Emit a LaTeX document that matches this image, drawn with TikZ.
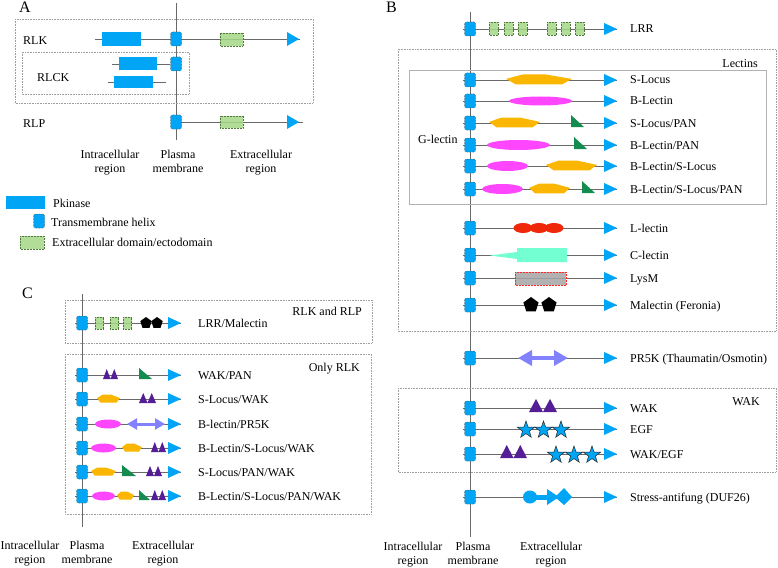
\documentclass[tikz,border=0pt]{standalone}
\usepackage{fontspec}
\setmainfont{Liberation Serif}
\usetikzlibrary{shapes.geometric,arrows.meta}
\definecolor{ablue}{RGB}{0,165,245}
\definecolor{lgreen}{RGB}{165,215,135}
\definecolor{dgreen}{RGB}{80,120,60}
\definecolor{syel}{RGB}{250,182,0}
\definecolor{bmag}{RGB}{255,70,255}
\definecolor{wpur}{RGB}{85,30,150}
\definecolor{pgrn}{RGB}{20,140,80}
\definecolor{lav}{RGB}{130,130,255}
\definecolor{lred}{RGB}{240,40,10}
\definecolor{ccyan}{RGB}{115,255,210}
\definecolor{lysg}{RGB}{165,165,165}
\definecolor{lgray}{RGB}{105,105,105}
\tikzset{
 rowline/.style={draw=lgray, line width=0.8pt},
 memline/.style={draw=lgray, line width=0.9pt},
 tm/.style={rectangle, rounded corners=2pt, fill=ablue, draw=black!75, densely dotted, line width=0.5pt, minimum width=11pt, minimum height=14pt, inner sep=0pt},
 lbl/.style={font=\fontsize{12}{13.5}\selectfont, inner sep=0pt},
 pnl/.style={font=\fontsize{16}{16}\selectfont, inner sep=0pt},
 grp/.style={draw=gray!75, densely dotted, line width=0.6pt},
 ecto/.style={fill=lgreen, draw=dgreen, densely dotted, line width=0.5pt, fill opacity=0.85},
 pent/.style={regular polygon, regular polygon sides=5, fill=black, inner sep=0pt},
 egf/.style={star, star points=5, star point ratio=2.5, fill=ablue, draw=black!85, line width=0.5pt, minimum size=18pt, inner sep=0pt},
}
\newcommand\protrow[7]{%
 \coordinate (#1s) at (#4,#3);
 \coordinate (#1e) at (#5,#3);
 \draw[rowline] (#1s) -- (#1e);
 \fill[ablue] (#1e) -- ++(-13,-6) -- ++(0,12) -- cycle;
 \node[tm] (#1m) at (#2,#3) {};
 \node[lbl, anchor=base west] (#1t) at (#6,#3+4) {#7};}
\newcommand\rowB[3]{\protrow{#1}{470}{#2}{463}{617}{630}{#3}}
\newcommand\rowC[3]{\protrow{#1}{82}{#2}{75}{181}{198}{#3}}
\newcommand\slocus[4]{\fill[syel] (#1,#3-0.2*#4) -- ({#1+0.25*(#2-#1)},#3-#4) -- ({#1+0.6*(#2-#1)},#3-#4) -- (#2,#3-0.2*#4) -- ({#1+0.85*(#2-#1)},#3+0.8*#4) -- ({#1+0.15*(#2-#1)},#3+0.8*#4) -- cycle;}
\newcommand\blec[4]{\fill[bmag] (#1,#2) ellipse [x radius=#3, y radius=#4];}
\newcommand\wak[4]{\fill[wpur] (#1,#2+4) -- ++(#3/2,-#4) -- ++(#3/2,#4) -- ++(#3/2,-#4) -- ++(#3/2,#4) -- cycle;}
\newcommand\pan[4]{\fill[pgrn] (#1,#2+4-#4) -- (#1,#2+4) -- (#1+#3,#2+4) -- cycle;}
\newcommand\lrrsq[4]{\filldraw[ecto] (#1,#2-#4/2) rectangle (#1+#3,#2+#4/2);}
\begin{document}
\begin{tikzpicture}[x=1pt,y=-1pt]
\useasboundingbox (0,0) rectangle (778,567);
% ================= Panel A =================
\node[pnl, anchor=base west] (pA) at (19,13) {A};
\coordinate (mAt) at (176,3); \coordinate (mAb) at (176,140);
\draw[memline] (mAt) -- (mAb);
\draw[grp] (15,19) rectangle (313,103);
\draw[grp] (22,52) rectangle (189,94);
% RLK
\coordinate (rlks) at (95,39); \coordinate (rlke) at (300,39);
\draw[rowline] (rlks) -- (rlke);
\fill[ablue] (102,32) rectangle (141,46);
\filldraw[ecto] (220,33) rectangle (243,46);
\fill[ablue] (299,39) -- ++(-12,-7) -- ++(0,14) -- cycle;
\node[tm] (rlkm) at (176,39) {};
\node[lbl, anchor=base west] (tRLK) at (23,45) {RLK};
% RLCK
\coordinate (rc1s) at (112,64);
\node[tm] (rc1m) at (176,64) {};
\draw[rowline] (rc1s) -- (rc1m);
\fill[ablue] (119,57) rectangle (157,70);
\coordinate (rc2s) at (108,82); \coordinate (rc2e) at (166,82);
\draw[rowline] (rc2s) -- (rc2e);
\fill[ablue] (114,76) rectangle (153,88);
\node[lbl, anchor=base west] (tRLCK) at (37,82) {RLCK};
% RLP
\coordinate (rlps) at (176,122); \coordinate (rlpe) at (303,122);
\draw[rowline] (rlps) -- (rlpe);
\filldraw[ecto] (220,116) rectangle (243,128);
\fill[ablue] (299,122) -- ++(-12,-7) -- ++(0,14) -- cycle;
\node[tm] (rlpm) at (176,122) {};
\node[lbl, anchor=base west] (tRLP) at (23,127) {RLP};
\node[lbl, align=center, anchor=north] (aIn) at (110,150) {Intracellular\\region};
\node[lbl, align=center, anchor=north] (aPm) at (178,150) {Plasma\\membrane};
\node[lbl, align=center, anchor=north] (aEx) at (261,150) {Extracellular\\region};
% ================= Legend =================
\fill[ablue] (6,196) rectangle (45,209);
\node[lbl, anchor=base west] (lg1) at (53,207) {Pkinase};
\node[tm] (lg2m) at (39,221) {};
\node[lbl, anchor=base west] (lg2) at (51,226) {Transmembrane helix};
\filldraw[ecto] (20,236) rectangle (44,249);
\node[lbl, anchor=base west] (lg3) at (52,246) {Extracellular domain/ectodomain};
% ================= Panel C =================
\node[pnl, anchor=base west] (pC) at (22,298) {C};
\coordinate (mCt) at (82,294); \coordinate (mCb) at (82,527);
\draw[memline] (mCt) -- (mCb);
\draw[grp] (65,300) rectangle (372,343);
\draw[grp] (65,354) rectangle (371,514);
\node[lbl, anchor=base east] (tRR) at (362,315) {RLK and RLP};
\node[lbl, anchor=base east] (tOR) at (360,371) {Only RLK};
\rowC{cm}{323}{LRR/Malectin}
\lrrsq{95}{323}{8.5}{12}\lrrsq{110}{323}{8.5}{12}\lrrsq{123}{323}{8.5}{12}
\node[pent, minimum size=12pt] (cp1) at (146,323) {};
\node[pent, minimum size=12pt] (cp2) at (157,323) {};
\rowC{ca}{375}{WAK/PAN}
\wak{103}{375}{7.5}{10}\pan{139}{375}{13}{11}
\rowC{cb}{399}{S-Locus/WAK}
\slocus{97}{120}{399}{4.5}\wak{139}{399}{8.5}{10}
\rowC{cc}{424}{B-lectin/PR5K}
\blec{108}{424}{13}{4.5}
\draw[lav, line width=3pt, {Triangle[length=10pt,width=11pt]}-{Triangle[length=10pt,width=11pt]}] (127,424) -- (165,424);
\rowC{cd}{448}{B-Lectin/S-Locus/WAK}
\blec{103.5}{448}{12.5}{4.5}\slocus{122}{142}{448}{4.5}\wak{151}{448}{7.5}{10}
\rowC{ce}{472}{S-Locus/PAN/WAK}
\slocus{91}{116}{472}{4.5}\pan{122}{472}{14}{11}\wak{146}{472}{8}{10}
\rowC{cf}{496}{B-Lectin/S-Locus/PAN/WAK}
\blec{103.5}{496}{11.5}{4.5}\slocus{117}{134}{496}{4.5}\pan{139}{496}{11}{10}\wak{151}{496}{7.5}{10}
\node[lbl, align=center, anchor=north] (cIn) at (30,541) {Intracellular\\region};
\node[lbl, align=center, anchor=north] (cPm) at (87,541) {Plasma\\membrane};
\node[lbl, align=center, anchor=north] (cEx) at (163,541) {Extracellular\\region};
% ================= Panel B =================
\node[pnl, anchor=base west] (pB) at (386,13) {B};
\coordinate (mBt) at (470,12); \coordinate (mBb) at (470,537);
\draw[memline] (mBt) -- (mBb);
\draw[grp] (398,49) rectangle (776,331);
\draw[gray!60, line width=0.5pt] (409,70) rectangle (766,204);
\draw[grp] (398,388) rectangle (776,472);
\node[lbl, anchor=base east] (tLect) at (758,68) {Lectins};
\node[lbl, anchor=base west] (tG) at (418,143) {G-lectin};
\node[lbl, anchor=base east] (tWAK) at (760,405) {WAK};
\rowB{lrr}{29}{LRR}
\lrrsq{489}{29}{9}{13}\lrrsq{504}{29}{9}{13}\lrrsq{518}{29}{9}{13}
\lrrsq{547}{29}{9}{13}\lrrsq{561}{29}{9}{13}\lrrsq{575}{29}{9}{13}
\rowB{sl}{80}{S-Locus}
\slocus{506}{572}{80}{5.5}
\rowB{bl}{101}{B-Lectin}
\blec{540.5}{101}{31.5}{4.5}
\rowB{slp}{123}{S-Locus/PAN}
\slocus{489}{540}{123}{5.5}\pan{571}{123}{13}{12}
\rowB{blp}{145}{B-Lectin/PAN}
\blec{518.5}{145}{31.5}{5}\pan{574}{145}{13}{12}
\rowB{bls}{166}{B-Lectin/S-Locus}
\blec{507.5}{166}{20.5}{5}\slocus{546}{597}{166}{5.5}
\rowB{blsp}{189}{B-Lectin/S-Locus/PAN}
\blec{502.5}{189}{20.5}{5}\slocus{529}{570}{189}{5.5}\pan{582}{189}{13}{12}
\rowB{ll}{228}{L-lectin}
\fill[lred] (523,228) ellipse [x radius=9.5, y radius=5];
\fill[lred] (539,228) ellipse [x radius=9.5, y radius=5];
\fill[lred] (554,228) ellipse [x radius=9.5, y radius=5];
\rowB{cl}{255}{C-lectin}
\fill[ccyan] (490,255.5) -- (517,252) -- (517,248) -- (567,248) -- (567,262) -- (517,262) -- (517,259) -- cycle;
\rowB{lys}{278}{LysM}
\filldraw[fill=lysg, draw=red!85, densely dotted, line width=0.5pt, fill opacity=0.85] (515,272) rectangle (566,285);
\rowB{mal}{305}{Malectin (Feronia)}
\node[pent, minimum size=16pt] (mp1) at (531,305) {};
\node[pent, minimum size=16pt] (mp2) at (549,305) {};
\rowB{pr}{358}{PR5K (Thaumatin/Osmotin)}
\draw[lav, line width=4pt, {Triangle[length=14pt,width=15pt]}-{Triangle[length=14pt,width=15pt]}] (518,358) -- (568,358);
\rowB{wk}{408}{WAK}
\wak{529}{408}{14}{13}
\rowB{eg}{429}{EGF}
\node[egf] (es1) at (526,430) {};
\node[egf] (es2) at (543.5,430) {};
\node[egf] (es3) at (561,430) {};
\rowB{we}{454}{WAK/EGF}
\wak{500}{454}{13.5}{13}
\node[egf] (ws1) at (556,455) {};
\node[egf] (ws2) at (574,455) {};
\node[egf] (ws3) at (592,455) {};
\rowB{duf}{497}{Stress-antifung (DUF26)}
\fill[ablue] (530,497) ellipse [x radius=7, y radius=6.5];
\fill[ablue] (530,494.5) rectangle (552,499.5);
\fill[ablue] (547,489) -- (559,497) -- (547,505) -- cycle;
\fill[ablue] (555,497) -- (564,488) -- (572,497) -- (564,505) -- cycle;
\node[lbl, align=center, anchor=north] (bIn) at (413,542) {Intracellular\\region};
\node[lbl, align=center, anchor=north] (bPm) at (473,542) {Plasma\\membrane};
\node[lbl, align=center, anchor=north] (bEx) at (551,542) {Extracellular\\region};
\end{tikzpicture}
\end{document}
